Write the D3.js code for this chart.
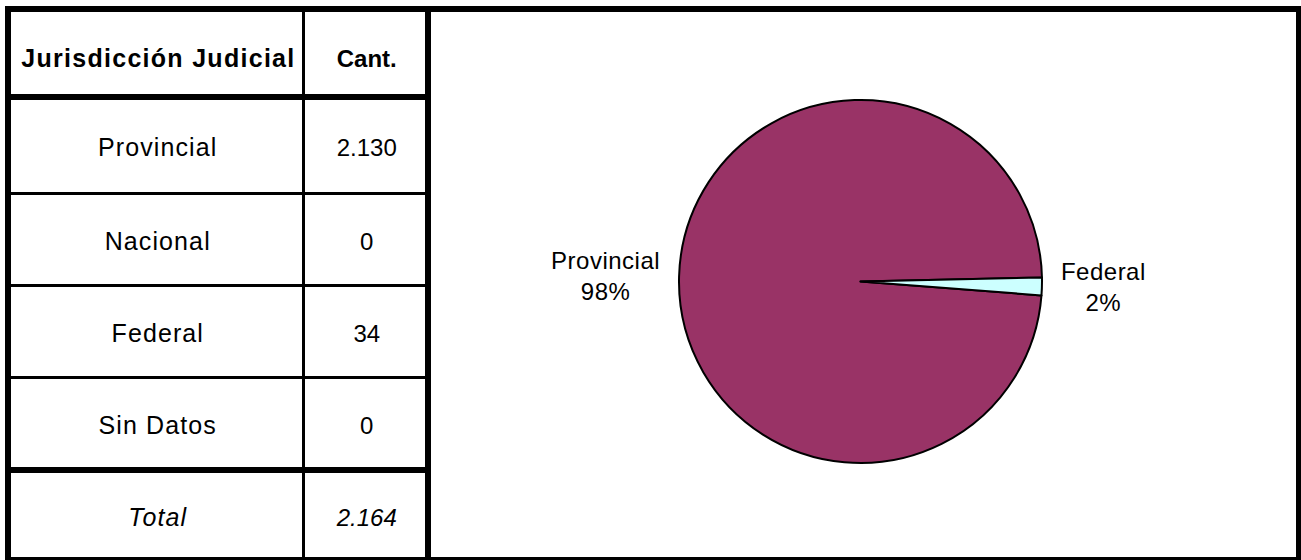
<!DOCTYPE html>
<html>
<head>
<meta charset="utf-8">
<script src="https://cdn.jsdelivr.net/npm/d3@7"></script>
<style>
  html, body { margin: 0; padding: 0; background: #fff; }
  svg { display: block; font-family: "Liberation Sans", Arial, sans-serif; }
</style>
</head>
<body>
<svg id="chart" width="1301" height="560"></svg>
<script>
// ---- data ----
const headerLabels = ["Jurisdicción Judicial", "Cant."];
const categories = ["Provincial", "Nacional", "Federal", "Sin Datos"];
const values = [2130, 0, 34, 0];
const totalLabel = "Total";
const sliceColors = ["#993366", "#ffffcc", "#ccffff", "#660066"];

// ---- setup ----
const svg = d3.select("#chart");
const loc = d3.formatLocale({ decimal: ",", thousands: ".", grouping: [3], currency: ["$", ""] });
const fmt = loc.format(",d");
const total = d3.sum(values);

// table geometry
const tableLeft = 8, tableRight = 428, colDiv = 303.5;
const rowEdges = [9, 97, 193.5, 285.5, 377.5, 470, 560];
const FS = 25;

const rows = [
  { label: headerLabels[0], value: headerLabels[1], type: "header" },
  ...categories.map((c, i) => ({ label: c, value: fmt(values[i]), type: "body" })),
  { label: totalLabel, value: fmt(total), type: "total" }
];

const g = svg.append("g");

rows.forEach((r, i) => {
  const y0 = rowEdges[i], y1 = rowEdges[i + 1];
  const cy = (y0 + y1) / 2;
  const base = cy + 0.36 * FS + (r.type === "header" ? 4.5 : 1.5);
  const t1 = g.append("text")
    .attr("x", (tableLeft + colDiv) / 2 + 2)
    .attr("y", base)
    .attr("text-anchor", "middle")
    .attr("font-size", FS)
    .attr("font-weight", r.type === "header" ? "bold" : "normal")
    .attr("font-style", r.type === "total" ? "italic" : "normal")
    .attr("fill", "#000")
    .text(r.label);
  if (r.type === "header") t1.attr("textLength", 273).attr("lengthAdjust", "spacing");
  else t1.attr("letter-spacing", 1.1);
  g.append("text")
    .attr("x", (colDiv + tableRight) / 2 + 1)
    .attr("y", base)
    .attr("text-anchor", "middle")
    .attr("font-size", r.type === "header" ? 24 : 24)
    .attr("font-weight", r.type === "header" ? "bold" : "normal")
    .attr("font-style", r.type === "total" ? "italic" : "normal")
    .attr("fill", "#000")
    .text(r.value);
});

// grid lines
const lines = g.append("g").attr("stroke", "#000");
[193.5, 285.5, 377.5].forEach(y => {
  lines.append("line").attr("x1", tableLeft).attr("x2", tableRight).attr("y1", y).attr("y2", y).attr("stroke-width", 3);
});
[97, 470].forEach(y => {
  lines.append("line").attr("x1", tableLeft).attr("x2", tableRight).attr("y1", y).attr("y2", y).attr("stroke-width", 6);
});
lines.append("line").attr("x1", colDiv).attr("x2", colDiv).attr("y1", 9).attr("y2", 560).attr("stroke-width", 3);
lines.append("line").attr("x1", tableRight).attr("x2", tableRight).attr("y1", 9).attr("y2", 560).attr("stroke-width", 6);
g.append("rect")
  .attr("x", 8).attr("y", 9).attr("width", 1291).attr("height", 551)
  .attr("fill", "none").attr("stroke", "#000").attr("stroke-width", 6);

// ---- pie ----
const cx = 860.5, cy = 281.5, R = 181.5;
const startDeg = 94.4;
const pie = d3.pie().sort(null)
  .startAngle(startDeg * Math.PI / 180)
  .endAngle((startDeg + 360) * Math.PI / 180);
const arcs = pie(values);
const arc = d3.arc().innerRadius(0).outerRadius(R);

const pg = svg.append("g").attr("transform", `translate(${cx},${cy})`);
pg.selectAll("path")
  .data(arcs.filter(d => d.value > 0))
  .join("path")
  .attr("d", arc)
  .attr("fill", d => sliceColors[d.index])
  .attr("stroke", "#000")
  .attr("stroke-width", 2)
  .attr("stroke-linejoin", "round");

const labelGap = 19;
arcs.filter(d => d.value > 0).forEach(d => {
  const mid = (d.startAngle + d.endAngle) / 2;
  const sx = Math.sin(mid), sy = -Math.cos(mid);
  const pct = Math.round(d.value / total * 100) + "%";
  const lg = pg.append("g");
  const t = lg.append("text")
    .attr("font-size", 24)
    .attr("letter-spacing", 0.5)
    .attr("fill", "#000")
    .attr("text-anchor", "middle");
  t.append("tspan").attr("x", 0).attr("dy", 0).text(categories[d.index]);
  t.append("tspan").attr("x", 0).attr("dy", 31).text(pct);
  const bb = t.node().getBBox();
  const halfW = bb.width / 2;
  const rr = R + labelGap;
  const px = rr * sx + (sx >= 0 ? halfW : -halfW);
  const py = rr * sy - (bb.y + bb.height / 2);
  lg.attr("transform", `translate(${px},${py})`);
});
</script>
</body>
</html>
